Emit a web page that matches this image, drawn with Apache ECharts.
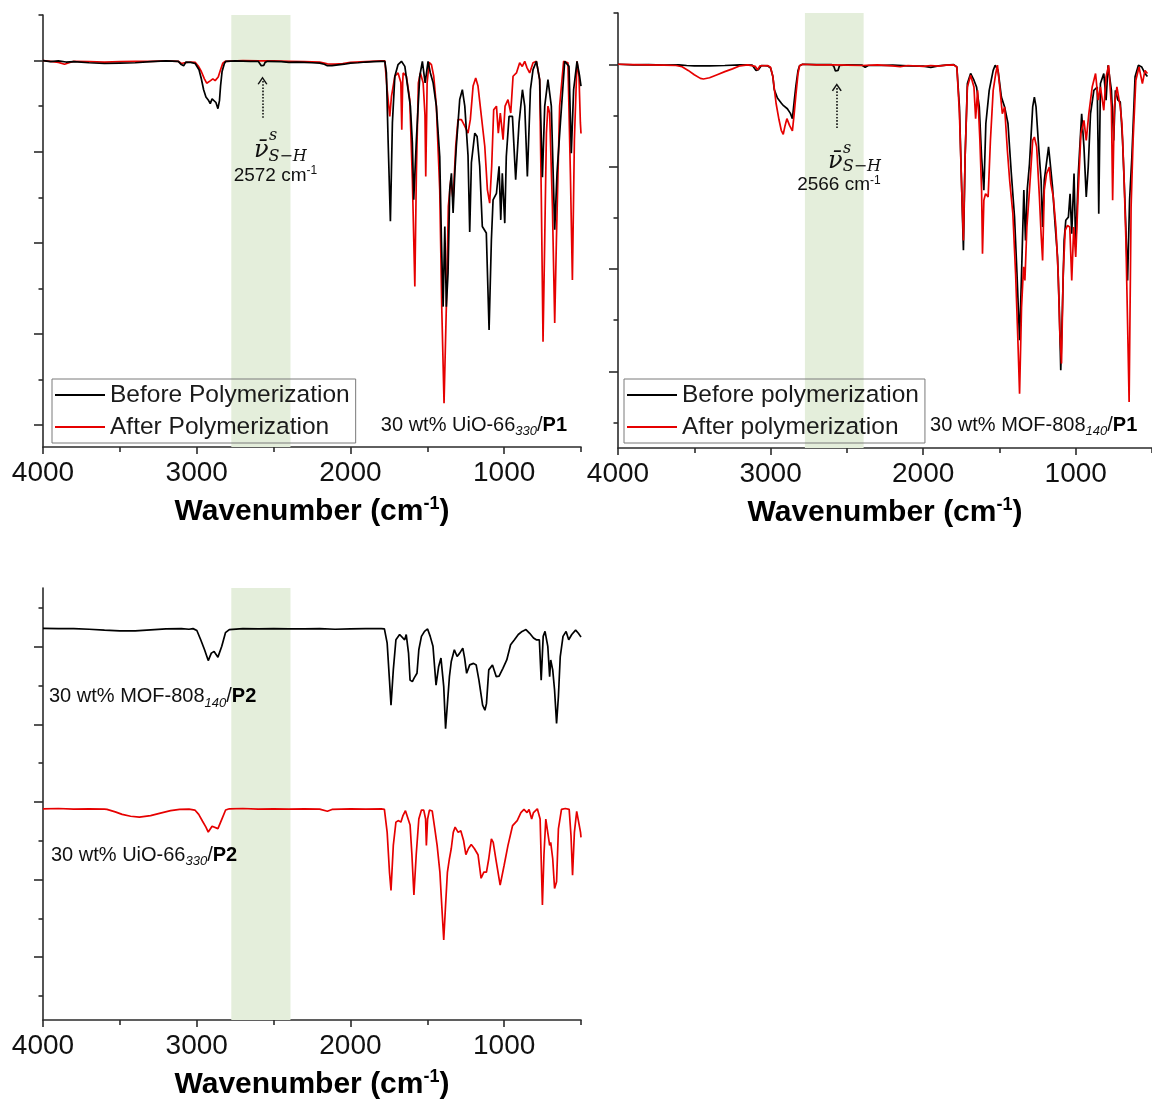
<!DOCTYPE html>
<html><head><meta charset="utf-8">
<script src="https://cdn.jsdelivr.net/npm/echarts@6/dist/echarts.min.js"></script>
<style>html,body{margin:0;padding:0;background:#fff}#c{width:1152px;height:1101px}</style>
</head><body><div id="c"></div>
<script>
// ---------------- data ----------------
const xMin = 500, xMax = 4000;
const xMajorTicks = [1000, 2000, 3000, 4000];
const xMinorTicks = [500, 1500, 2500, 3500];
const shBand = [2775, 2390];

const yRangeA = [-6, 112.5];
const yMajorA = [0, 25, 50, 75, 100];
const yMinorA = [12.5, 37.5, 62.5, 87.5, 112.5];
const yRangeB = [-25, 116.7];
const yMajorB = [0, 33.33, 66.67, 100];
const yMinorB = [-16.67, 16.67, 50, 83.33, 116.67];
const yRangeC = [-20.3, 119];
const yMajorC = [0, 25, 50, 75, 100];
const yMinorC = [-12.5, 12.5, 37.5, 62.5, 87.5, 112.5];

const shPeakA = 2572, shPeakB = 2566;

// 30 wt% UiO-66(330)/P1 — before polymerization
const uioP1Before = [[4000,100],[3950,99.7],[3900,99.9],[3850,99.6],[3800,99.7],[3700,99.4],[3600,99.2],[3500,99.3],[3400,99.4],[3300,99.7],[3200,99.9],[3120,99.8],[3100,98.9],[3085,98.6],[3070,99.6],[3040,99.5],[3010,99.2],[3000,98.8],[2985,97.5],[2970,95],[2955,92],[2940,90],[2925,89.2],[2912,88.2],[2900,89.5],[2888,89.5],[2875,88.5],[2862,86.8],[2852,89],[2845,93],[2835,97],[2820,99.2],[2810,99.8],[2750,99.9],[2650,99.8],[2600,99.8],[2590,99.4],[2580,98.6],[2572,98.1],[2564,98.7],[2555,99.5],[2540,99.8],[2450,99.7],[2400,99.5],[2350,99.6],[2300,99.5],[2250,99.4],[2200,99.3],[2170,99.0],[2150,98.6],[2120,98.6],[2080,98.8],[2040,99.0],[2000,99.3],[1950,99.4],[1900,99.6],[1850,99.7],[1800,99.8],[1776,99.8],[1766,96.6],[1755,78.3],[1740,55.9],[1727,82.9],[1711,95.7],[1690,98.9],[1668,99.8],[1646,98.4],[1625,92],[1610,87.5],[1597,77.4],[1588,61.8],[1571,78.3],[1549,95.7],[1532,99.8],[1514,93.9],[1495,99.8],[1480,96.6],[1462,93.9],[1441,87.5],[1419,73.7],[1408,50.8],[1397,32.5],[1386,54.5],[1376,32.5],[1365,41.7],[1354,64.6],[1343,69.1],[1332,58.2],[1321,69.1],[1311,76.5],[1289,89.3],[1272,92],[1256,87.5],[1235,74],[1224,53],[1213,72],[1191,80.1],[1176,79.2],[1159,71],[1142,54.5],[1116,52.7],[1098,26.1],[1083,50.8],[1072,61.8],[1050,63.6],[1033,71],[1022,56.3],[1012,69.1],[996,55.4],[986,73.7],[968,84.7],[946,84.7],[925,67.3],[903,82.9],[881,92],[866,87.5],[849,68.2],[829,92],[812,97.5],[790,99.8],[769,94.8],[751,68],[736,87.5],[715,94.8],[693,87.5],[671,53.6],[656,69.1],[634,82.9],[606,99.8],[578,98.4],[563,74.6],[548,92],[526,99.8],[509,95.7],[500,93]];
// 30 wt% UiO-66(330)/P1 — after polymerization
const uioP1After = [[4000,100],[3950,99.8],[3900,99.5],[3860,99.0],[3830,99.4],[3800,99.8],[3700,99.7],[3600,99.6],[3500,99.7],[3400,99.8],[3300,99.8],[3200,99.9],[3120,99.8],[3100,99.2],[3080,99.4],[3040,99.6],[3010,99.5],[2990,98.5],[2970,97],[2950,95],[2935,93.8],[2925,93.4],[2910,94.5],[2895,95],[2880,94.5],[2870,94.3],[2860,95.5],[2845,97.5],[2830,99.3],[2815,99.8],[2700,100],[2600,99.9],[2500,99.9],[2400,99.8],[2300,99.7],[2200,99.6],[2150,99.1],[2100,99.0],[2050,99.2],[2000,99.5],[1900,99.7],[1800,99.9],[1776,99.9],[1761,92],[1744,84.7],[1733,90.2],[1711,95.7],[1690,96.6],[1672,94],[1666,81],[1660,94],[1657,96.6],[1636,95.7],[1614,89.3],[1597,67.3],[1581,38],[1571,69.1],[1558,93.9],[1545,96.6],[1527,93.9],[1515,85],[1510,68.2],[1504,85],[1501,93.9],[1488,99.5],[1473,98.9],[1458,95.7],[1441,87.5],[1419,64.6],[1406,32.5],[1391,6],[1376,32.5],[1363,60],[1347,67.3],[1332,61.8],[1315,76.5],[1300,83.8],[1278,83.8],[1256,82],[1235,80.1],[1220,83.8],[1202,93],[1185,95.2],[1170,93],[1148,84.7],[1126,76.5],[1109,64.6],[1094,60.9],[1081,71],[1068,86.5],[1050,87.5],[1038,80.1],[1025,85.6],[1007,78.3],[994,87.5],[975,89.3],[957,85.6],[942,95.7],[920,96.6],[899,99.4],[882,98.4],[866,99.8],[851,98],[834,96.6],[812,99.4],[790,99.8],[769,94.8],[758,61.8],[747,22.9],[736,50.8],[725,80.1],[715,87.5],[704,85.6],[686,60],[671,28],[660,50.8],[639,87.5],[613,99.8],[585,99.4],[569,69.1],[556,39.8],[543,78.3],[526,99.8],[513,95.7],[504,82.9],[500,80]];

// 30 wt% MOF-808(140)/P1 — before polymerization
const mofP1Before = [[4000,100],[3900,99.8],[3800,99.9],[3700,99.7],[3600,99.8],[3550,99.6],[3500,99.5],[3400,99.5],[3300,99.6],[3200,99.8],[3120,99.7],[3095,98],[3080,98.2],[3060,99.6],[3020,99.5],[3000,98.8],[2985,96],[2976,91.8],[2955,89],[2929,87.3],[2915,86.5],[2905,87],[2890,85.5],[2881,85],[2870,84],[2857,82.3],[2845,88],[2834,93],[2820,98],[2810,99.5],[2790,100],[2700,99.9],[2600,99.9],[2585,99.3],[2575,97.8],[2566,97.2],[2558,98],[2548,99.6],[2500,99.8],[2400,99.7],[2380,99],[2360,99.6],[2300,99.6],[2200,99.7],[2100,99.5],[2000,99.4],[1950,99],[1900,99.5],[1850,99.7],[1800,99.9],[1779,99.1],[1762,86],[1747,59],[1736,39.4],[1725,69.8],[1710,93.7],[1689,97],[1667,94.8],[1650,92.6],[1632,86.1],[1617,69.8],[1602,59],[1589,80.7],[1567,91.5],[1541,98],[1528,99.7],[1509,98],[1487,89.3],[1466,86.1],[1444,80.7],[1422,64.4],[1401,50.2],[1385,31.8],[1368,10.1],[1355,31.8],[1340,59],[1329,42.6],[1318,59],[1303,67.6],[1282,86.1],[1271,89.3],[1260,86.1],[1243,73.1],[1227,62.2],[1217,47],[1206,62.2],[1195,66.5],[1178,73.1],[1169,68.7],[1152,60],[1134,47],[1119,37.2],[1108,20.9],[1098,0.3],[1087,20.9],[1076,42.6],[1065,49.2],[1048,50.2],[1037,57.8],[1026,44.8],[1011,64.4],[1000,40.5],[983,64.4],[961,83.9],[946,73.1],[931,56.8],[918,66.5],[903,83.9],[881,91.5],[859,92.6],[854,75],[849,51.3],[843,75],[838,93.7],[816,97],[801,88.3],[788,99.7],[766,91.5],[751,75.2],[740,91.5],[723,88.3],[708,87.7],[693,75.2],[676,53.5],[660,29.6],[647,55.7],[632,69.8],[611,95.9],[589,99.7],[567,99.1],[546,97],[530,96]];
// 30 wt% MOF-808(140)/P1 — after polymerization
const mofP1After = [[4000,100],[3900,99.9],[3800,99.8],[3700,99.7],[3620,99.6],[3580,99.2],[3540,98],[3500,96.6],[3460,95.4],[3440,95.2],[3400,95.6],[3350,96.6],[3300,97.6],[3250,98.5],[3200,99.5],[3150,99.8],[3100,99.3],[3085,98.2],[3070,99.5],[3020,99.6],[3000,99],[2985,96],[2964,87.3],[2945,82],[2930,78.5],[2917,77.2],[2905,80],[2893,82.3],[2875,80],[2857,78.3],[2845,84],[2834,90],[2820,97],[2810,99.5],[2790,100],[2700,99.8],[2600,99.8],[2500,99.7],[2400,99.6],[2300,99.8],[2200,99.5],[2150,99.2],[2100,99.6],[2000,99.3],[1950,99.6],[1900,99.4],[1850,99.7],[1800,99.8],[1779,99.1],[1762,83.9],[1747,59],[1736,42.6],[1725,69.8],[1710,92.6],[1689,96.4],[1667,92.6],[1656,82.3],[1643,91.5],[1628,75.2],[1617,59],[1611,38.3],[1602,55.7],[1591,57.8],[1574,56.8],[1559,75.2],[1541,91.5],[1524,97],[1513,99.7],[1498,92.6],[1481,83.9],[1466,86.1],[1448,72],[1433,62.2],[1412,51.3],[1394,31.8],[1379,10.1],[1368,-7.3],[1355,20.9],[1342,34],[1333,29.6],[1320,47],[1303,59],[1282,75.2],[1271,76.3],[1256,73.1],[1238,56.8],[1227,44.8],[1217,36.1],[1206,59],[1191,64.4],[1173,66.5],[1163,61.1],[1147,56.8],[1130,47],[1115,31.8],[1104,12.2],[1093,2.5],[1082,31.8],[1069,45.9],[1054,47.5],[1039,47],[1026,29.6],[1013,47],[1000,37.2],[983,59],[966,77.4],[946,81.7],[931,75.2],[914,83.9],[892,92.6],[870,97],[853,88.3],[838,92.6],[816,85],[801,95.9],[784,99.7],[766,86.1],[758,55.7],[747,86.1],[730,92.6],[708,86.1],[697,80.7],[684,64.4],[671,42.6],[660,15.5],[650,-10],[637,53.5],[624,75.2],[606,94.8],[585,99.1],[563,93.7],[546,98],[530,97]];

// 30 wt% MOF-808(140)/P2
const mofP2 = [[4000,106],[3900,105.9],[3800,105.9],[3700,105.7],[3600,105.4],[3500,105.2],[3400,105.2],[3300,105.5],[3200,105.8],[3100,105.9],[3050,105.7],[3024,105.9],[2999,105.3],[2974,102.3],[2949,99.1],[2925,95.6],[2905,98],[2887,98.5],[2862,96.7],[2837,100.2],[2813,104.6],[2788,105.6],[2700,105.9],[2600,105.8],[2500,105.9],[2400,105.8],[2300,105.8],[2200,105.9],[2100,105.7],[2000,105.8],[1900,105.9],[1800,105.9],[1779,105.8],[1761,101.2],[1746,89.3],[1736,81.2],[1721,92.6],[1704,102.3],[1680,104],[1667,103.5],[1647,102.3],[1637,104],[1622,98],[1612,89.3],[1597,88.8],[1585,90],[1567,91.5],[1555,99.1],[1538,103.4],[1518,105],[1498,105.8],[1481,103.4],[1463,100.2],[1443,87.7],[1426,93.7],[1411,96.4],[1393,87.2],[1381,73.6],[1369,81.7],[1356,90.4],[1344,95.3],[1324,99.1],[1306,96.9],[1289,98],[1269,99.6],[1257,96.4],[1244,91.5],[1224,94.2],[1199,94.7],[1182,94.2],[1164,89.3],[1140,81.2],[1125,79.6],[1115,81.7],[1100,92.6],[1076,94.2],[1051,90.4],[1033,90.6],[1008,93.1],[983,95.8],[958,100.7],[933,102.3],[908,104],[883,105],[858,105.6],[834,104.4],[809,102.9],[791,102.3],[771,102.3],[759,89.3],[746,103.4],[734,105],[716,100.2],[704,90.4],[697,95.8],[684,92.6],[672,86.1],[659,75.3],[647,84],[635,96.9],[617,103.4],[597,105],[580,102.3],[560,104],[535,105.4],[517,104.4],[503,103.4],[500,103.2]];
// 30 wt% UiO-66(330)/P2
const uioP2 = [[4000,47.8],[3900,47.9],[3800,47.7],[3700,47.8],[3600,47.7],[3584,47.6],[3530,46.8],[3485,46],[3430,45.4],[3373,45.1],[3300,45.6],[3236,46.4],[3170,47.2],[3111,47.6],[3050,47.7],[3012,47.4],[2987,46],[2962,43.8],[2940,41.9],[2925,40.3],[2900,42.2],[2887,42.7],[2862,41.4],[2837,44.4],[2812,47.4],[2788,47.8],[2700,47.9],[2600,47.7],[2500,47.8],[2400,47.7],[2300,47.8],[2200,47.7],[2150,47],[2120,47.6],[2000,47.8],[1900,47.7],[1800,47.8],[1779,47.6],[1761,40.2],[1746,27.4],[1736,21.5],[1721,36],[1704,43.5],[1687,44],[1672,43.5],[1659,45.5],[1642,47.2],[1630,46.8],[1612,42.6],[1600,33],[1587,20],[1572,33],[1555,44.5],[1538,47.4],[1523,47.4],[1511,44.5],[1506,36],[1498,44.5],[1486,47.4],[1468,47.1],[1451,41.3],[1436,36],[1418,27.4],[1406,16.8],[1393,5.5],[1381,16.8],[1369,27.4],[1356,31.7],[1344,35],[1331,40.2],[1319,41.9],[1299,40.2],[1282,40.7],[1264,37.6],[1249,33],[1232,35],[1214,36.3],[1194,35],[1170,33],[1150,25.4],[1132,27.4],[1115,27.4],[1100,31.7],[1083,38.1],[1071,37],[1051,30.7],[1026,23.2],[1000,29.6],[975,36],[945,42.4],[915,44],[891,46.6],[871,47.6],[851,46.6],[838,47.6],[821,44.5],[809,46.6],[784,47.8],[766,44.5],[751,16.8],[741,33],[729,44.5],[716,44],[704,36],[697,37],[684,31.7],[672,22.1],[659,24.3],[647,41.3],[627,47.6],[602,47.9],[577,47.6],[565,39.1],[555,26.4],[543,40.2],[528,47],[515,46.6],[503,40.2],[500,38.6]];

// ---------------- chart ----------------
const FONT = '"Liberation Sans", Arial, Helvetica, sans-serif';
const SERIF = '"DejaVu Serif", "Liberation Serif", serif';
const AX = '#2b2b2b';
const BLACK = '#000000';
const RED = '#e60000';
const BAND = '#e4eedb';
const CHEVRON = 'path://M5,0 L10,8 L8.7,8.8 L5,2.6 L1.3,8.8 L0,8 Z';

const nameRich = {
  b: {fontSize: 30, fontWeight: 'bold', fontFamily: FONT, color: '#000', lineHeight: 34, verticalAlign: 'middle'},
  s: {fontSize: 18, fontWeight: 'bold', fontFamily: FONT, color: '#000', lineHeight: 18, verticalAlign: 'top'}
};
const labelRich = {
  n: {fontSize: 20, fontFamily: FONT, color: '#111', lineHeight: 26, verticalAlign: 'middle'},
  i: {fontSize: 13, fontFamily: FONT, fontStyle: 'italic', color: '#111', lineHeight: 13, verticalAlign: 'bottom'},
  b: {fontSize: 20, fontFamily: FONT, fontWeight: 'bold', color: '#000', lineHeight: 26, verticalAlign: 'middle'}
};
const cmRich = {
  a: {fontSize: 19, fontFamily: FONT, color: '#111', lineHeight: 22, verticalAlign: 'middle'},
  s: {fontSize: 12, fontFamily: FONT, color: '#111', lineHeight: 12, verticalAlign: 'top'}
};
const nuRich = {
  nu: {fontSize: 24, fontFamily: SERIF, fontStyle: 'italic', color: '#111', lineHeight: 28, verticalAlign: 'middle'},
  sub: {fontSize: 16, fontFamily: SERIF, fontStyle: 'italic', color: '#111', lineHeight: 16, verticalAlign: 'bottom'},
  sup: {fontSize: 16, fontFamily: SERIF, fontStyle: 'italic', color: '#111', lineHeight: 18, verticalAlign: 'middle'}
};

function textPoint(coord, formatter, rich, align) {
  return {coord: coord, symbol: 'circle', symbolSize: 0,
    label: {show: true, position: 'inside', align: align || 'left', verticalAlign: 'middle', formatter: formatter, rich: rich}};
}

function xAxes(g) {
  return [
    {type: 'value', gridIndex: g, position: 'bottom', min: xMin, max: xMax, inverse: true,
     axisLine: {show: true, onZero: false, lineStyle: {color: AX, width: 1.6}},
     axisTick: {show: true, customValues: xMajorTicks, length: 7, lineStyle: {color: AX, width: 1.6}},
     axisLabel: {show: true, customValues: xMajorTicks, fontSize: 28, color: '#111', margin: 12, fontFamily: FONT,
                 formatter: function (v) { return String(v); }},
     splitLine: {show: false},
     name: '{b|Wavenumber (cm}{s|-1}{b|)}', nameLocation: 'middle', nameGap: 48,
     nameTextStyle: {rich: nameRich}},
    {type: 'value', gridIndex: g, position: 'bottom', min: xMin, max: xMax, inverse: true,
     axisLine: {show: false, onZero: false},
     axisTick: {show: true, customValues: xMinorTicks, length: 5, lineStyle: {color: AX, width: 1.6}},
     axisLabel: {show: false}, splitLine: {show: false}}
  ];
}
function yAxes(g, range, major, minor) {
  return [
    {type: 'value', gridIndex: g, position: 'left', min: range[0], max: range[1],
     axisLine: {show: true, onZero: false, lineStyle: {color: AX, width: 1.6}},
     axisTick: {show: true, customValues: major, length: 9, lineStyle: {color: AX, width: 1.6}},
     axisLabel: {show: false}, splitLine: {show: false}},
    {type: 'value', gridIndex: g, position: 'left', min: range[0], max: range[1],
     axisLine: {show: false, onZero: false},
     axisTick: {show: true, customValues: minor, length: 4.5, lineStyle: {color: AX, width: 1.6}},
     axisLabel: {show: false}, splitLine: {show: false}}
  ];
}
function bandArea() {
  return {silent: true, itemStyle: {color: BAND}, data: [[{xAxis: shBand[0]}, {xAxis: shBand[1]}]]};
}
function line(name, data, color, xi, yi, z, extra) {
  return Object.assign({
    name: name, type: 'line', xAxisIndex: xi, yAxisIndex: yi, data: data, z: z,
    symbol: 'none', showSymbol: false, smooth: false, color: color,
    lineStyle: {color: color, width: 1.7}, itemStyle: {color: color}, emphasis: {disabled: true}
  }, extra || {});
}
function arrow(x, v0, v1) {
  return {silent: true, symbol: ['none', CHEVRON], symbolSize: [10, 8], label: {show: false},
    lineStyle: {type: 'dotted', color: '#111', width: 1.6}, emphasis: {disabled: true},
    data: [[{coord: [x, v0]}, {coord: [x, v1]}]]};
}

const legendCommon = {orient: 'vertical', itemWidth: 50, itemHeight: 2, itemGap: 4, icon: 'rect',
  padding: [2, 6, 2, 3], borderColor: '#7a7a7a', borderWidth: 1, selectedMode: false,
  textStyle: {fontSize: 24.5, color: '#1a1a1a', fontFamily: FONT, lineHeight: 28}};

const option = {
  animation: false,
  backgroundColor: '#ffffff',
  textStyle: {fontFamily: FONT},
  grid: [
    {left: 43, top: 15, width: 538, height: 432},
    {left: 618, top: 13, width: 539, height: 435},
    {left: 43, top: 588, width: 538, height: 432}
  ],
  xAxis: [].concat(xAxes(0), xAxes(1), xAxes(2)),
  yAxis: [].concat(yAxes(0, yRangeA, yMajorA, yMinorA), yAxes(1, yRangeB, yMajorB, yMinorB), yAxes(2, yRangeC, yMajorC, yMinorC)),
  legend: [
    Object.assign({data: ['Before Polymerization', 'After Polymerization'], left: 52, top: 379}, legendCommon),
    Object.assign({data: ['Before polymerization', 'After polymerization'], left: 624, top: 379}, legendCommon)
  ],
  series: [
    line('After Polymerization', uioP1After, RED, 0, 0, 3, {markArea: bandArea()}),
    line('Before Polymerization', uioP1Before, BLACK, 0, 0, 4, {
      markLine: arrow(shPeakA, 84.3, 94.5),
      markPoint: {silent: true, data: [
        textPoint([2628, 75.2], '{nu|ν\u0304}{sub|S\u2212H}', nuRich, 'left'),
        textPoint([2530, 79.3], '{sup|s}', nuRich, 'left'),
        textPoint([2488, 68.3], '{a|' + shPeakA + ' cm}{s|-1}', cmRich, 'center'),
        textPoint([1802, 0], '{n|30 wt% UiO-66}{i|330}{n|/}{b|P1}', labelRich, 'left')
      ]}
    }),
    line('Before polymerization', mofP1Before, BLACK, 2, 2, 3, {
      markArea: bandArea(),
      markLine: arrow(shPeakB, 79.2, 92.5),
      markPoint: {silent: true, data: [
        textPoint([2623, 68.4], '{nu|ν\u0304}{sub|S\u2212H}', nuRich, 'left'),
        textPoint([2526, 72.5], '{sup|s}', nuRich, 'left'),
        textPoint([2552, 60.6], '{a|' + shPeakB + ' cm}{s|-1}', cmRich, 'center'),
        textPoint([1955, -17.6], '{n|30 wt% MOF-808}{i|140}{n|/}{b|P1}', labelRich, 'left')
      ]}
    }),
    line('After polymerization', mofP1After, RED, 2, 2, 4),
    line('30 wt% MOF-808/P2', mofP2, BLACK, 4, 4, 3, {
      markArea: bandArea(),
      markPoint: {silent: true, data: [
        textPoint([3961, 83.9], '{n|30 wt% MOF-808}{i|140}{n|/}{b|P2}', labelRich, 'left'),
        textPoint([3948, 32.9], '{n|30 wt% UiO-66}{i|330}{n|/}{b|P2}', labelRich, 'left')
      ]}
    }),
    line('30 wt% UiO-66/P2', uioP2, RED, 4, 4, 3)
  ]
};

const chart = echarts.init(document.getElementById('c'), null, {renderer: 'canvas'});
chart.setOption(option);
</script></body></html>
